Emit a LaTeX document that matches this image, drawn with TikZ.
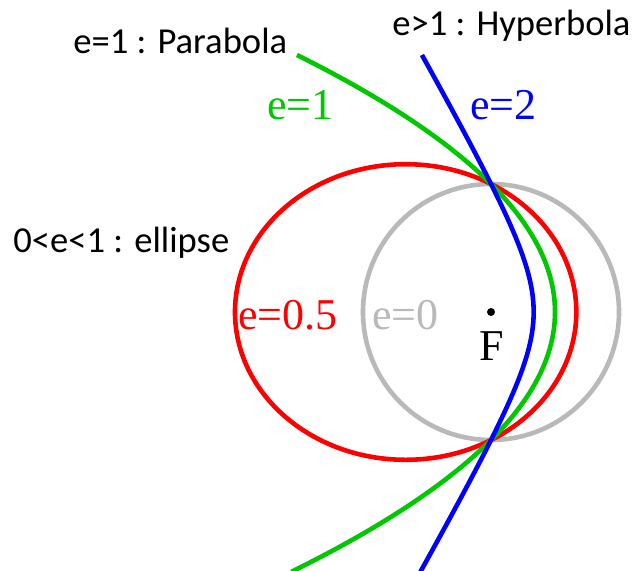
\documentclass[tikz,border=0pt]{standalone}
\usepackage{fontspec}
\setmainfont{Liberation Serif}
\newfontfamily\calib{Carlito}
\definecolor{cgreen}{RGB}{0,200,0}
\definecolor{cblue}{RGB}{0,0,255}
\definecolor{cred}{RGB}{255,0,0}
\definecolor{cgrey}{RGB}{185,185,185}
\begin{document}
\begin{tikzpicture}[x=50pt,y=50pt,
  curve/.style={line width=2.3pt},
  sanslabel/.style={inner sep=0pt,anchor=base west,font=\calib\fontsize{18.3}{22}\selectfont},
  seriflabel/.style={inner sep=0pt,anchor=base west,font=\fontsize{22}{26}\selectfont}]
\useasboundingbox (-4.91,-2.58) rectangle (1.41,3.12);
\fill[white] (-4.91,-2.58) rectangle (1.41,3.12);
\coordinate (F) at (0,0);
% e=0 circle
\draw[curve,cgrey] (F) circle (1.28);
% e=0.5 ellipse
\draw[curve,cred] (-0.85333,0) ellipse [x radius=1.70667, y radius=1.47802];
% e=1 parabola
\draw[curve,cgreen] plot[domain=2.57:-2.60,samples=200,variable=\t] ({(1.6384-\t*\t)/2.56},\t);
% e=2 hyperbola
\draw[curve,cblue] plot[domain=2.57:-2.60,samples=200,variable=\t] ({(2.56-sqrt(1.6384+3*\t*\t))/3},\t);
% focus
\fill (F) circle (0.04);
\node[seriflabel,anchor=base] (Flab) at (0.005,-0.48) {F};
% labels
\node[sanslabel] (parab) at (-4.18,2.59) {e=1 : Parabola};
\node[sanslabel] (hyper) at (-0.99,2.77) {e>1 : Hyperbola};
\node[sanslabel] (ellip) at (-4.78,0.60) {0<e<1 : ellipse};
\node[seriflabel,text=cgreen] (e1) at (-2.24,1.93) {e=1};
\node[seriflabel,text=cblue] (e2) at (-0.21,1.93) {e=2};
\node[seriflabel,text=cred] (e05) at (-2.53,-0.17) {e=0.5};
\node[seriflabel,text=cgrey] (e0) at (-1.19,-0.17) {e=0};
\end{tikzpicture}
\end{document}
